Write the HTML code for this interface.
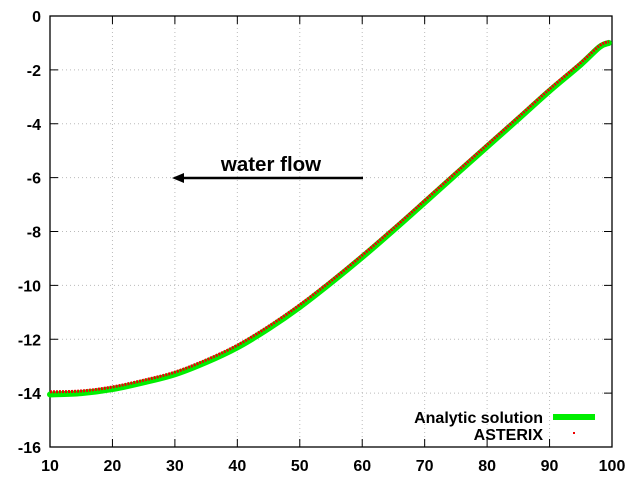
<!DOCTYPE html>
<html><head><meta charset="utf-8"><style>
body{margin:0;background:#fff}
svg{display:block;font-family:"Liberation Sans",sans-serif;font-weight:bold}
</style></head><body>
<svg id="c" width="640" height="480"></svg>
<script>
const xTicks=[10,20,30,40,50,60,70,80,90,100];
const yTicks=[0,-2,-4,-6,-8,-10,-12,-14,-16];
const xs=[10,15,20,25,30,35,40,45,50,55,60,65,70,75,80,85,90,95,98,99.5];
const analytic=[-14.05,-14.0,-13.85,-13.6,-13.3,-12.85,-12.3,-11.6,-10.8,-9.9,-8.95,-7.95,-6.92,-5.88,-4.85,-3.82,-2.78,-1.8,-1.15,-1.0];
const asterix=[-13.95,-13.92,-13.77,-13.52,-13.22,-12.77,-12.22,-11.52,-10.72,-9.83,-8.88,-7.88,-6.85,-5.81,-4.78,-3.75,-2.71,-1.73,-1.1,-0.95];
const L=50,R=612,T=16,B=447;
const X=v=>L+(v-10)/90*(R-L), Y=v=>T+(0-v)/16*(B-T);
const svg=document.getElementById('c'),NS='http://www.w3.org/2000/svg';
function mk(t,a,p){const e=document.createElementNS(NS,t);for(const k in a)e.setAttribute(k,a[k]);(p||svg).appendChild(e);return e;}
function smooth(xv,yv){const p=xv.map((x,i)=>[X(x),Y(yv[i])]);let d='M'+p[0];for(let i=0;i<p.length-1;i++){const a=p[i-1]||p[i],b=p[i],c=p[i+1],e=p[i+2]||c;d+=' C'+(b[0]+(c[0]-a[0])/6)+','+(b[1]+(c[1]-a[1])/6)+' '+(c[0]-(e[0]-b[0])/6)+','+(c[1]-(e[1]-b[1])/6)+' '+c[0]+','+c[1];}return d;}
xTicks.forEach(v=>{
 if(v>10&&v<100){const g=mk('line',{x1:X(v),x2:X(v),y1:T,y2:B,stroke:'#bbb','stroke-dasharray':'1,3'});
 
 }
 const t=mk('line',{x1:X(v),x2:X(v),y1:B,y2:B-8,stroke:'#000'});mk('line',{x1:X(v),x2:X(v),y1:T,y2:T+8,stroke:'#000'});
 
 
 const l=mk('text',{x:X(v),y:471,'text-anchor':'middle','font-size':16});l.textContent=v;
 
 
});
yTicks.forEach(v=>{
 if(v<0&&v>-16){const g=mk('line',{x1:L,x2:R,y1:Y(v),y2:Y(v),stroke:'#bbb','stroke-dasharray':'1,3'});
 
 }
 const t=mk('line',{x1:L,x2:L+8,y1:Y(v),y2:Y(v),stroke:'#000'});mk('line',{x1:R,x2:R-8,y1:Y(v),y2:Y(v),stroke:'#000'});
 
 
 const l=mk('text',{x:41,y:Y(v)+6,'text-anchor':'end','font-size':16});l.textContent=v;
 
 
});
const fr=mk('rect',{x:L,y:T,width:R-L,height:B-T,fill:'none',stroke:'#000','stroke-width':1.3});


const ga=mk('path',{d:smooth(xs,analytic),fill:'none',stroke:'#00ee00','stroke-width':6,'stroke-linecap':'round'});


const gr=mk('path',{d:smooth(xs,asterix),fill:'none',stroke:'#ee0000','stroke-width':3,'stroke-dasharray':'2,1'});


const ar=mk('line',{x1:363,x2:180,y1:178,y2:178,stroke:'#000','stroke-width':2.5});


const ah=mk('path',{d:'M172,178 L184,173 L184,183 Z',fill:'#000'});


const wt=mk('text',{x:271,y:171,'text-anchor':'middle','font-size':20.5});wt.textContent='water flow';


const l1=mk('text',{x:543,y:423,'text-anchor':'end','font-size':16});l1.textContent='Analytic solution';


const s1=mk('line',{x1:553,x2:595,y1:417,y2:417,stroke:'#00ee00','stroke-width':6});


const l2=mk('text',{x:543,y:440,'text-anchor':'end','font-size':16});l2.textContent='ASTERIX';


const s2=mk('rect',{x:573,y:432,width:2,height:2,fill:'#ee0000'});


</script>
</body></html>
